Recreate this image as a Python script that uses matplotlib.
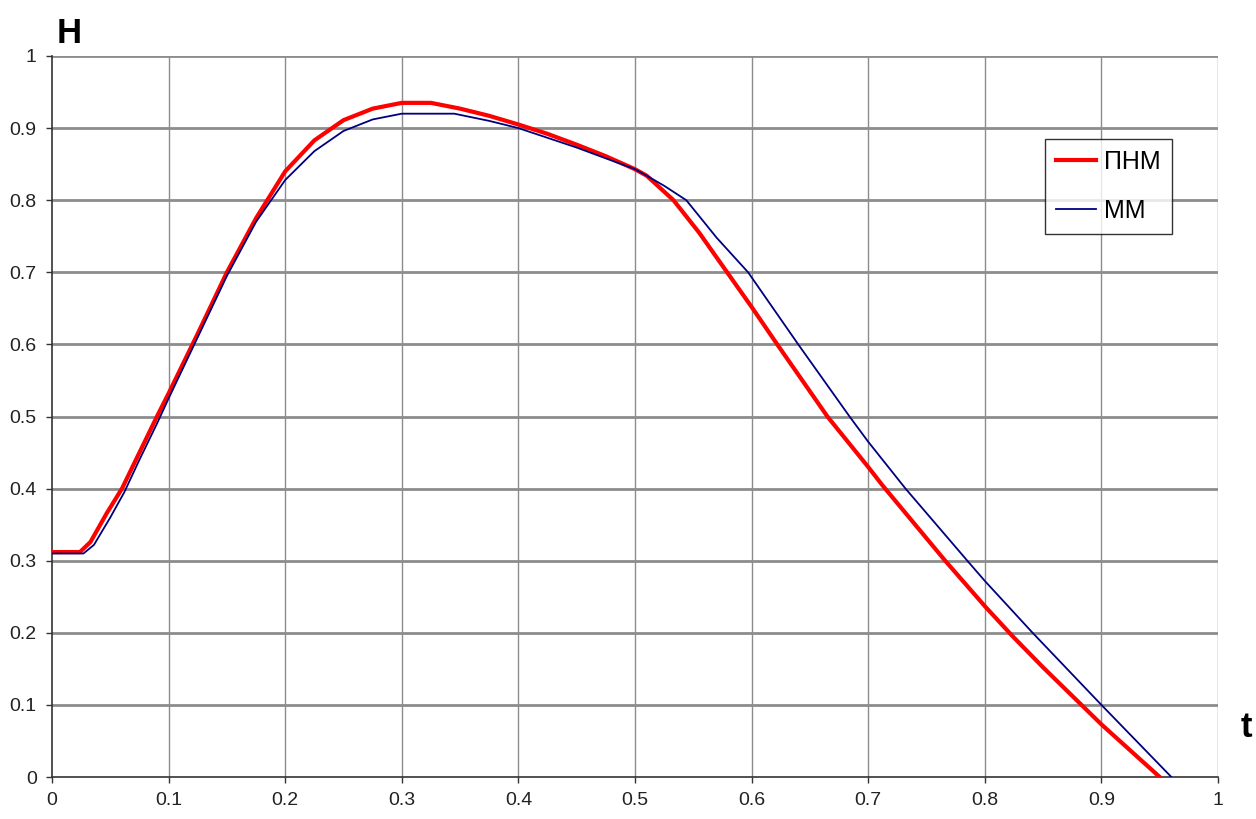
import numpy as np
import matplotlib.pyplot as plt

plt.rcParams['font.family'] = ['Liberation Sans', 'DejaVu Sans']

# ПНМ (red)
t_pnm = [0, 0.024, 0.033, 0.047, 0.06, 0.075, 0.09, 0.1, 0.125, 0.15, 0.175, 0.2,
         0.225, 0.25, 0.275, 0.3, 0.325, 0.35, 0.375, 0.4, 0.425, 0.45, 0.475, 0.5,
         0.51, 0.533, 0.555, 0.579, 0.6, 0.622, 0.665, 0.7, 0.712, 0.766, 0.8, 0.824,
         0.85, 0.9, 0.95]
h_pnm = [0.312, 0.312, 0.326, 0.366, 0.40, 0.45, 0.50, 0.532, 0.615, 0.70, 0.775, 0.840,
         0.883, 0.911, 0.927, 0.935, 0.935, 0.927, 0.917, 0.905, 0.892, 0.877, 0.861, 0.843,
         0.834, 0.80, 0.755, 0.70, 0.652, 0.60, 0.50, 0.43, 0.405, 0.30, 0.237, 0.195,
         0.152, 0.073, 0.0]

# ММ (blue)
t_mm = [0, 0.027, 0.036, 0.05, 0.062, 0.075, 0.09, 0.1, 0.125, 0.15, 0.175, 0.2,
        0.225, 0.25, 0.275, 0.3, 0.325, 0.345, 0.375, 0.4, 0.45, 0.5, 0.51, 0.525,
        0.544, 0.57, 0.597, 0.64, 0.684, 0.7, 0.732, 0.785, 0.8, 0.841, 0.9, 0.96]
h_mm = [0.31, 0.31, 0.322, 0.36, 0.395, 0.44, 0.49, 0.525, 0.61, 0.695, 0.77, 0.828,
        0.868, 0.896, 0.912, 0.92, 0.92, 0.92, 0.91, 0.90, 0.873, 0.843, 0.834, 0.82,
        0.80, 0.748, 0.70, 0.60, 0.50, 0.465, 0.40, 0.30, 0.272, 0.20, 0.10, 0.0]

ticks = np.round(np.arange(0, 1.01, 0.1), 1)
tick_labels = ['0', '0.1', '0.2', '0.3', '0.4', '0.5', '0.6', '0.7', '0.8', '0.9', '1']

fig = plt.figure(figsize=(12.56, 8.19), dpi=100)
ax = fig.add_axes([52/1256, 42/819, 1166/1256, 721/819])

for y in ticks[1:]:
    ax.axhline(y, color='#8c8c8c', lw=2, zorder=1)
for x in ticks[1:]:
    ax.axvline(x, color='#8c8c8c', lw=1, zorder=1)

ax.plot(t_pnm, h_pnm, color='#ff0000', lw=3, label='ПНМ', zorder=3)
ax.plot(t_mm, h_mm, color='#000080', lw=1.3, label='ММ', zorder=4)

ax.set_xlim(0, 1)
ax.set_ylim(0, 1)
ax.set_xticks(ticks)
ax.set_xticklabels(tick_labels)
ax.set_yticks(ticks)
ax.set_yticklabels(tick_labels)
ax.tick_params(length=4, width=1, color='#333333', labelsize=14, labelcolor='#222222', pad=7)
for s in ['top', 'right']:
    ax.spines[s].set_visible(False)
for s in ['left', 'bottom']:
    ax.spines[s].set_color('#333333')
    ax.spines[s].set_linewidth(1.2)

leg = ax.legend(loc='upper left', bbox_to_anchor=(0.8516, 0.885), fontsize=18,
                frameon=True, fancybox=False, handlelength=1.6, handletextpad=0.3,
                borderpad=0.45, labelspacing=1.0, borderaxespad=0)
leg.get_frame().set_edgecolor('black')
leg.get_frame().set_linewidth(1)

fig.text(57/1256, 1 - 43/819, 'H', fontsize=25, fontweight='bold', va='baseline')
fig.text(1241/1256, 1 - 737/819, 't', fontsize=25, fontweight='bold', va='baseline')

fig.savefig('out.png', dpi=100)
